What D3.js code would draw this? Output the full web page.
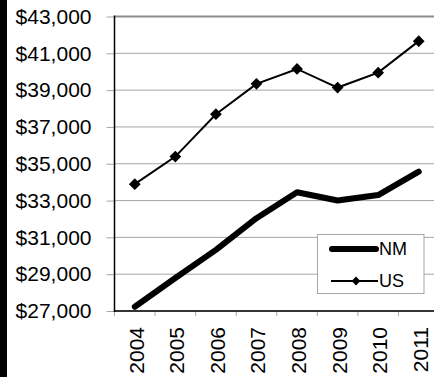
<!DOCTYPE html>
<html>
<head>
<meta charset="utf-8">
<script src="https://cdnjs.cloudflare.com/ajax/libs/d3/7.8.5/d3.min.js"></script>
<style>
  html, body { margin: 0; padding: 0; background: #fff; }
  #chart { width: 434px; height: 377px; overflow: hidden; }
  text { font-family: "Liberation Sans", Arial, sans-serif; fill: #000; }
</style>
</head>
<body>
<div id="chart"></div>
<script>
// chart data
var years = ["2004", "2005", "2006", "2007", "2008", "2009", "2010", "2011"];
var nmIncome = [27230, 28790, 30320, 32040, 33450, 33000, 33300, 34570];
var usIncome = [33890, 35390, 37690, 39340, 40150, 39140, 39950, 41660];
var yTicks = [27000, 29000, 31000, 33000, 35000, 37000, 39000, 41000, 43000];

var width = 434, height = 377;
var plotLeft = 114.5, plotRight = 439, plotTop = 16.5, plotBottom = 311;

var svg = d3.select("#chart")
    .append("svg")
    .attr("width", width)
    .attr("height", height);

// black strip on the left edge
svg.append("rect")
    .attr("x", 0).attr("y", 0)
    .attr("width", 7).attr("height", height)
    .attr("fill", "#000");

var x = d3.scaleBand().domain(years).range([plotLeft, plotRight]);
var y = d3.scaleLinear().domain([27000, 43000]).range([plotBottom, plotTop]);

// gridlines
svg.append("g")
    .selectAll("line")
    .data(yTicks)
    .enter().append("line")
    .attr("x1", plotLeft).attr("x2", plotRight)
    .attr("y1", d => y(d)).attr("y2", d => y(d))
    .attr("stroke", d => d === 43000 ? "#8c8c8c" : "#a6a6a6")
    .attr("stroke-width", d => d === 43000 ? 2 : 1);

// y axis ticks and labels
var yAxis = svg.append("g")
    .attr("transform", "translate(" + plotLeft + ",0)")
    .call(d3.axisLeft(y).tickValues(yTicks).tickFormat(d3.format("$,")).tickSize(8).tickPadding(15));
yAxis.select(".domain").remove();
yAxis.selectAll(".tick line").attr("stroke", "#a6a6a6");
yAxis.selectAll("text")
    .attr("font-size", 21)
    .attr("font-family", "Liberation Sans, Arial, sans-serif");

// x axis ticks at band edges
var edges = years.map(d => x(d)).concat([plotRight]);
svg.append("g")
    .selectAll("line")
    .data(edges)
    .enter().append("line")
    .attr("x1", d => d).attr("x2", d => d)
    .attr("y1", plotBottom).attr("y2", plotBottom + 5)
    .attr("stroke", "#a6a6a6");

svg.append("g")
    .selectAll("text")
    .data(years)
    .enter().append("text")
    .attr("transform", d => "translate(" + (x(d) + x.bandwidth() / 2 + 9) + "," + 327 + ") rotate(-90)")
    .attr("text-anchor", "end")
    .attr("font-size", 21)
    .text(d => d);

// axis lines
svg.append("line")
    .attr("x1", plotLeft).attr("x2", plotLeft)
    .attr("y1", plotTop - 1).attr("y2", plotBottom + 1)
    .attr("stroke", "#000").attr("stroke-width", 1.5);
svg.append("line")
    .attr("x1", plotLeft).attr("x2", plotRight)
    .attr("y1", plotBottom).attr("y2", plotBottom)
    .attr("stroke", "#000").attr("stroke-width", 1.5);

var line = d3.line()
    .x((d, i) => x(years[i]) + x.bandwidth() / 2)
    .y(d => y(d));

// NM series
svg.append("path")
    .datum(nmIncome)
    .attr("d", line)
    .attr("fill", "none")
    .attr("stroke", "#000")
    .attr("stroke-width", 6)
    .attr("stroke-linecap", "round")
    .attr("stroke-linejoin", "round");

// US series
svg.append("path")
    .datum(usIncome)
    .attr("d", line)
    .attr("fill", "none")
    .attr("stroke", "#000")
    .attr("stroke-width", 2);

var diamond = d3.symbol().type(d3.symbolDiamond2).size(88);
svg.append("g")
    .selectAll("path")
    .data(usIncome)
    .enter().append("path")
    .attr("d", diamond)
    .attr("transform", (d, i) => "translate(" + (x(years[i]) + x.bandwidth() / 2) + "," + y(d) + ")")
    .attr("fill", "#000");

// legend
var legend = svg.append("g");
legend.append("rect")
    .attr("x", 317.5).attr("y", 234.5)
    .attr("width", 106.5).attr("height", 59)
    .attr("fill", "#fff")
    .attr("stroke", "#a6a6a6");
legend.append("line")
    .attr("x1", 332).attr("x2", 376)
    .attr("y1", 249).attr("y2", 249)
    .attr("stroke", "#000").attr("stroke-width", 6)
    .attr("stroke-linecap", "round");
legend.append("text")
    .attr("x", 379).attr("y", 249).attr("dy", "0.36em")
    .attr("font-size", 18)
    .text("NM");
legend.append("line")
    .attr("x1", 331).attr("x2", 378)
    .attr("y1", 281).attr("y2", 281)
    .attr("stroke", "#000").attr("stroke-width", 2);
legend.append("path")
    .attr("d", d3.symbol().type(d3.symbolDiamond2).size(50))
    .attr("transform", "translate(356,281)")
    .attr("fill", "#000");
legend.append("text")
    .attr("x", 379).attr("y", 281).attr("dy", "0.36em")
    .attr("font-size", 18)
    .text("US");
</script>
</body>
</html>
